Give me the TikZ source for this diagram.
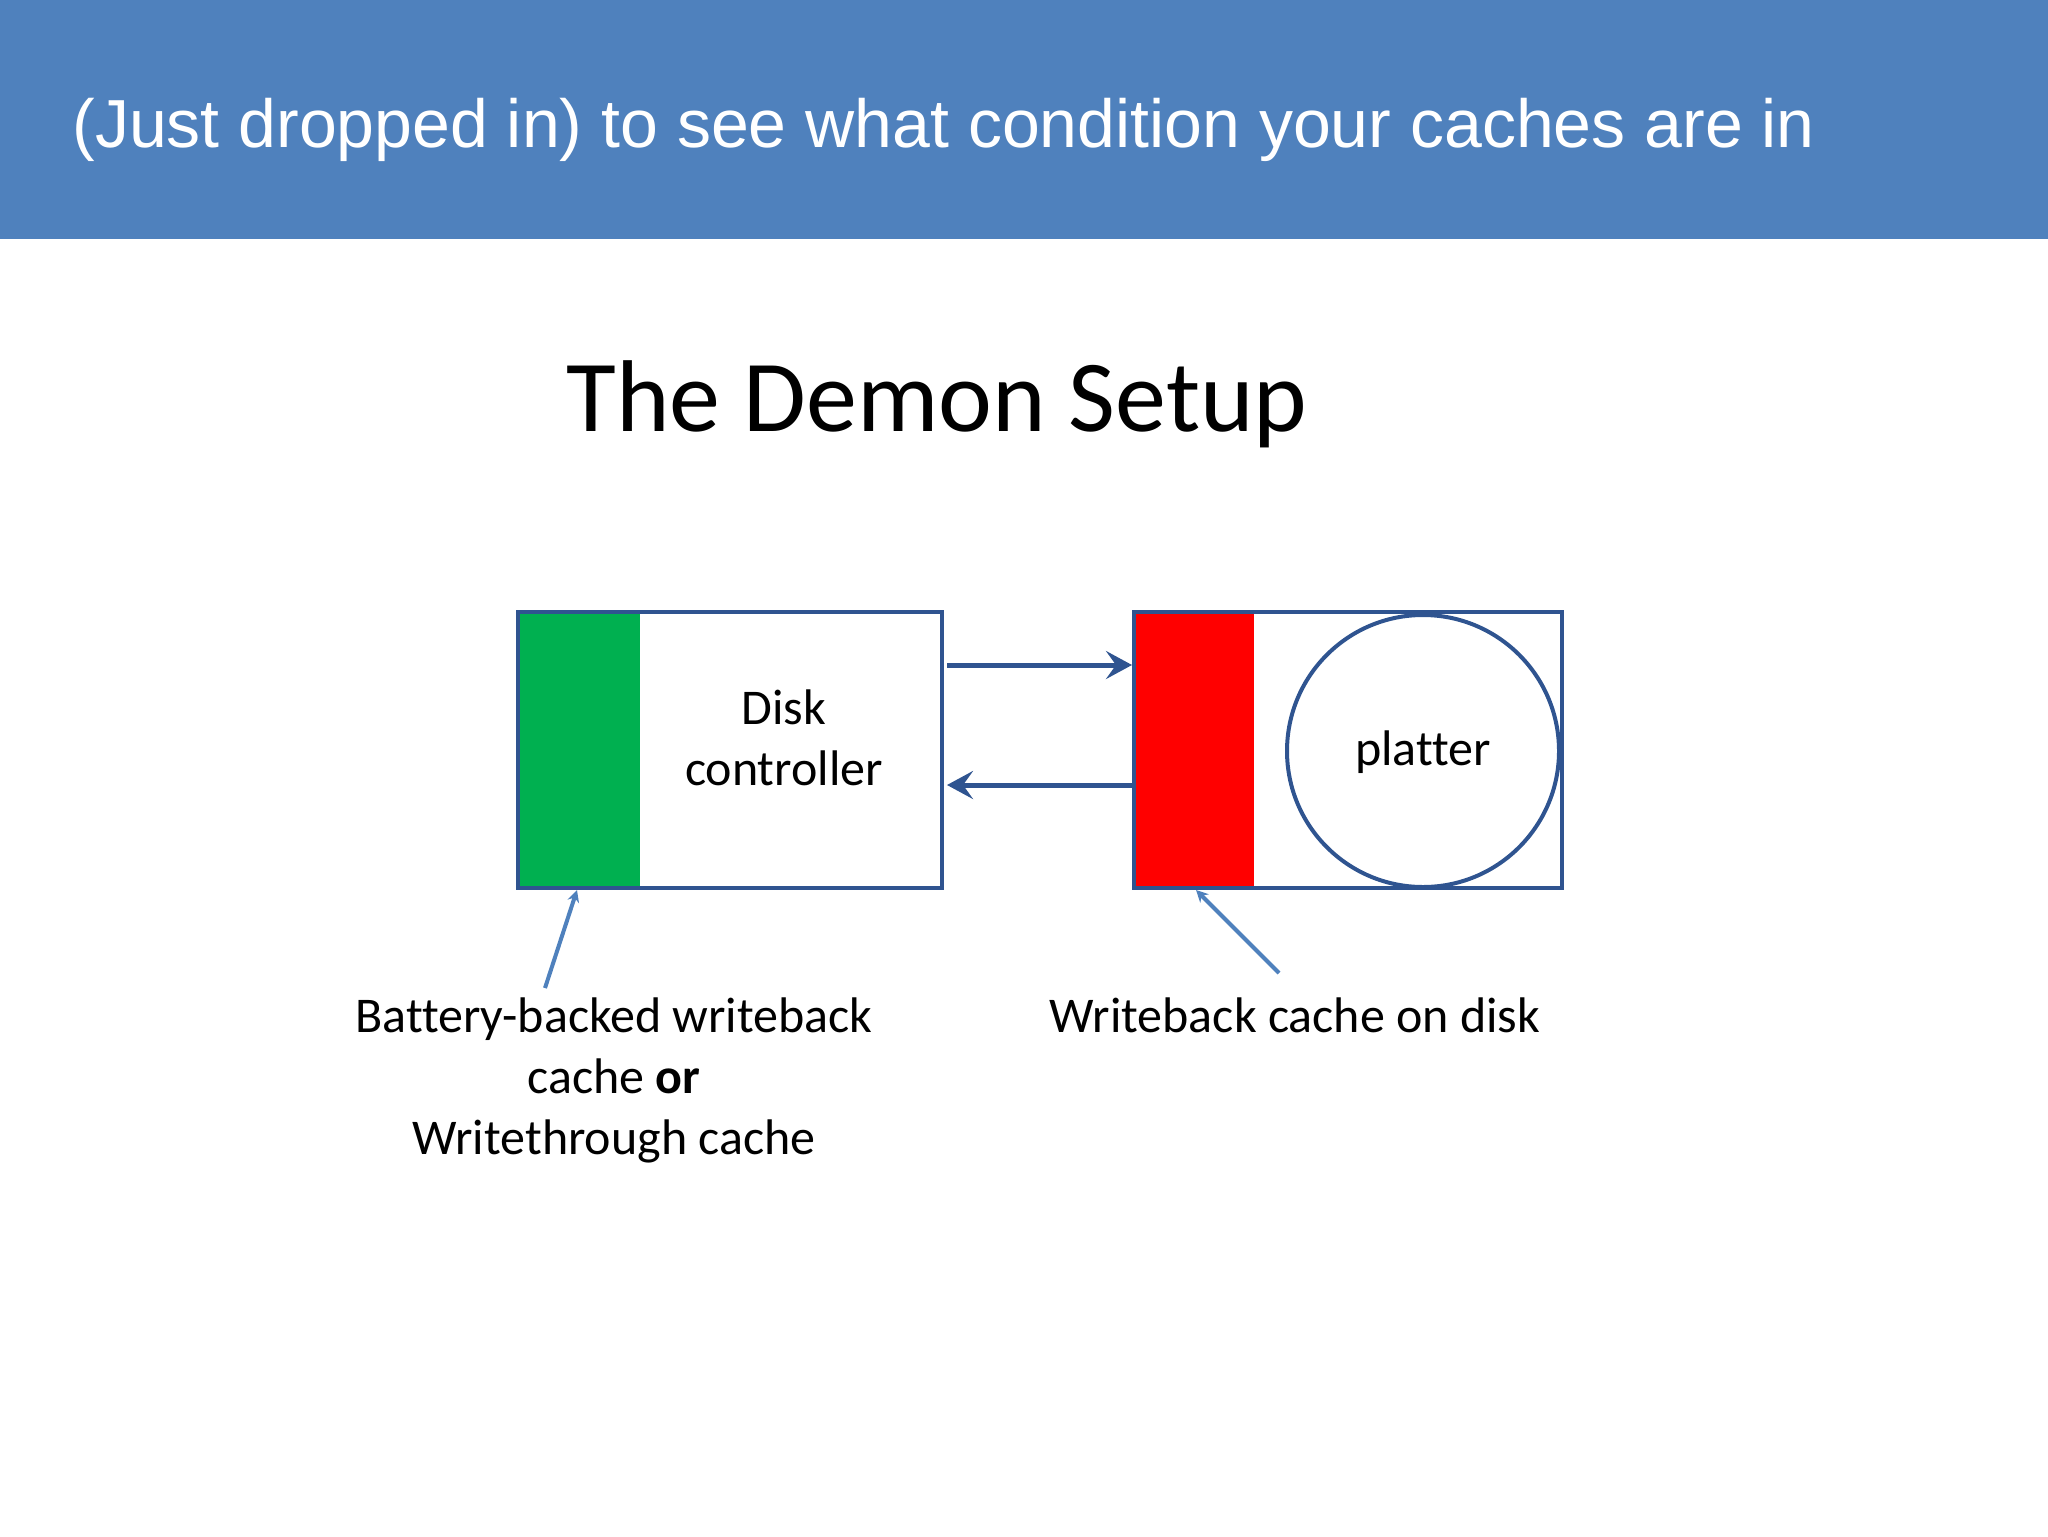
\documentclass[tikz,border=0pt]{standalone}
\usepackage{fontspec}
\setmainfont{Carlito}[Ligatures=NoCommon]
\newfontfamily\bannerfont{Liberation Sans}
\usetikzlibrary{arrows.meta}
\definecolor{slideblue}{HTML}{4F81BD}
\definecolor{slideline}{HTML}{2F5490}
\definecolor{cachegreen}{HTML}{00B050}
\definecolor{cachered}{HTML}{FF0000}

\begin{document}
\begin{tikzpicture}[x=0.5pt,y=-0.5pt,
  box/.style={draw=slideline, line width=2pt, inner sep=0pt},
  link/.style={draw=slideline, line width=2.5pt, -{Stealth[length=13pt,width=14pt,inset=5pt]}},
  pointer/.style={draw=slideblue, line width=2pt, -{Stealth[length=6pt,width=6pt,inset=2pt]}},
  txt/.style={font=\fontsize{25}{30.5}\selectfont, inner sep=0pt}]
  \useasboundingbox (0,0) rectangle (2048,1536);
  \fill[slideblue] (0,0) rectangle (2048,239);
  \node[anchor=base west, text=white, inner sep=0pt,
        font=\bannerfont\fontsize{34}{40}\selectfont] (banner) at (72,148)
        {(Just dropped in) to see what condition your caches are in};
  \node[anchor=base, inner sep=0pt, font=\fontsize{51}{61}\selectfont] (title) at (937,431) {The Demon Setup};
  \fill[cachegreen] (518,612) rectangle (640,888);
  \fill[cachered] (1134,612) rectangle (1254,888);
  \node[box, minimum width=212pt, minimum height=138pt] (ctrl) at (730,750) {};
  \node[box, minimum width=214pt, minimum height=138pt] (disk) at (1348,750) {};
  \node[box, circle, minimum size=136pt, txt, text depth=3pt] (platter) at (1423,751) {platter};
  \node[txt, align=center, anchor=north] (ctrltext) at (784,689) {Disk\\controller};
  \draw[link] ([xshift=1.5pt,yshift=42.5pt]ctrl.east) -- ([yshift=42.5pt]disk.west);
  \draw[link] ([yshift=-17.5pt]disk.west) -- ([xshift=1.5pt,yshift=-17.5pt]ctrl.east);
  \node[txt, align=center, anchor=north] (bbwc) at (614,997)
        {Battery-backed writeback\\cache \textbf{or}\\Writethrough cache};
  \node[txt, anchor=base] (wbc) at (1295,1032) {Writeback cache on disk};
  \coordinate (bbwc tail) at (545,988);
  \coordinate (wbc tail) at (1279,973);
  \draw[pointer] (bbwc tail) -- ([xshift=30.5pt]ctrl.south west);
  \draw[pointer] (wbc tail) -- ([xshift=32pt]disk.south west);
\end{tikzpicture}
\end{document}
